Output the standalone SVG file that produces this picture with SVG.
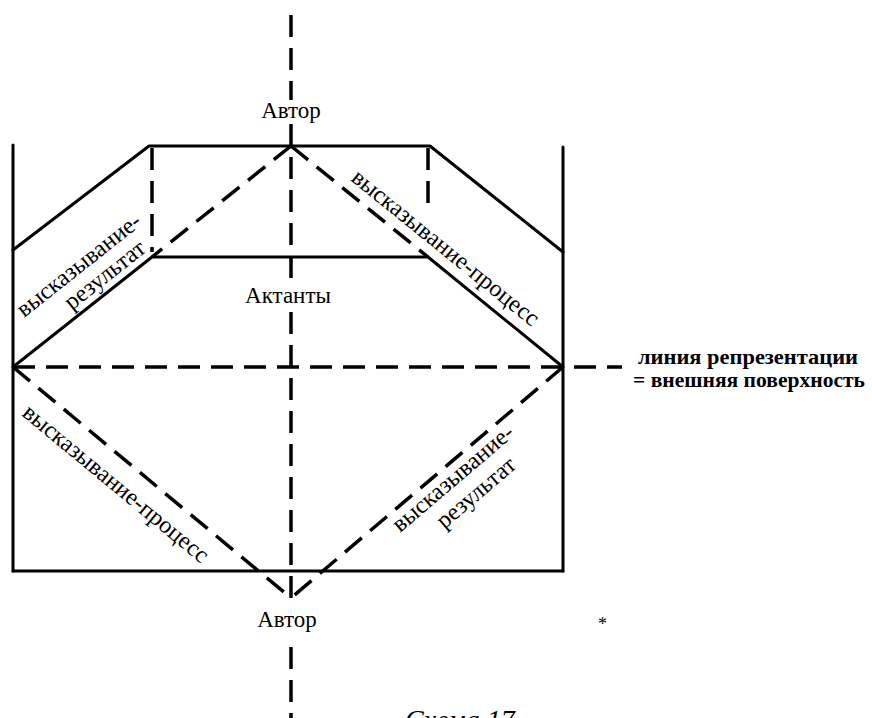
<svg xmlns="http://www.w3.org/2000/svg" width="872" height="718" viewBox="0 0 872 718">
<style>
.solid{fill:none;stroke:#000;stroke-width:3;stroke-linecap:round;stroke-linejoin:round}
.dash{fill:none;stroke:#000;stroke-width:3.5;stroke-dasharray:22 11}
.t{font-family:"Liberation Serif","Times New Roman",serif;font-size:23px;fill:#000}
.d{font-family:"Liberation Serif","Times New Roman",serif;font-size:24px;fill:#000}
.b{font-family:"Liberation Serif","Times New Roman",serif;font-size:21px;font-weight:bold;fill:#000}
</style>
<rect width="872" height="718" fill="#fff"/>
<g id="frame">
<line class="solid" x1="13" y1="145" x2="13" y2="571"/>
<line class="solid" x1="563" y1="147" x2="563" y2="571"/>
<line class="solid" x1="13" y1="571" x2="563" y2="571"/>
<polyline class="solid" points="13,250 149,146 430,146 563,252"/>
<polyline class="solid" points="13,367 152,257 428,257 563,367"/>
</g>
<g id="connectors">
<line class="dash" x1="291" y1="15" x2="291" y2="100"/>
<line class="dash" x1="291" y1="124" x2="291" y2="283"/>
<line class="dash" x1="291" y1="312" x2="291" y2="598"/>
<line class="dash" x1="291" y1="647" x2="291" y2="718"/>
<line class="dash" x1="152" y1="148" x2="152" y2="252"/>
<line class="dash" x1="428" y1="148" x2="428" y2="203"/>
<line class="dash" x1="291" y1="146" x2="152" y2="257"/>
<line class="dash" x1="291" y1="146" x2="428" y2="257"/>
<line class="dash" x1="13" y1="367" x2="622" y2="367"/>
<line class="dash" x1="13" y1="367" x2="291" y2="598"/>
<line class="dash" x1="563" y1="367" x2="291" y2="598"/>
</g>
<g id="author-top"><text class="t" x="291" y="118" text-anchor="middle">Автор</text></g>
<g id="actants"><text class="t" x="288" y="303" text-anchor="middle">Актанты</text></g>
<g id="author-bottom"><text class="t" x="287" y="627" text-anchor="middle">Автор</text></g>
<g id="representation-line">
<text class="b" x="638" y="364" textLength="220" lengthAdjust="spacingAndGlyphs">линия репрезентации</text>
<text class="b" x="633" y="387" textLength="232" lengthAdjust="spacingAndGlyphs">= внешняя поверхность</text>
</g>
<g id="label-result-upper">
<text class="d" transform="translate(24,318) rotate(-38.4)"><tspan x="0" y="0">высказывание-</tspan><tspan x="42" y="24">результат</tspan></text>
</g>
<g id="label-process-upper">
<text class="d" transform="translate(350,180) rotate(39)">высказывание-процесс</text>
</g>
<g id="label-process-lower">
<text class="d" transform="translate(21,415) rotate(39.6)">высказывание-процесс</text>
</g>
<g id="label-result-lower">
<text class="d" transform="translate(400,533) rotate(-40.4)"><tspan x="0" y="0">высказывание-</tspan><tspan x="36" y="26">результат</tspan></text>
</g>
<g id="caption"><text x="405" y="729" font-family="Liberation Serif, serif" font-size="28" font-style="italic">Схема 17</text></g>
<text x="598" y="630" font-family="Liberation Serif, serif" font-size="18">*</text>
</svg>
